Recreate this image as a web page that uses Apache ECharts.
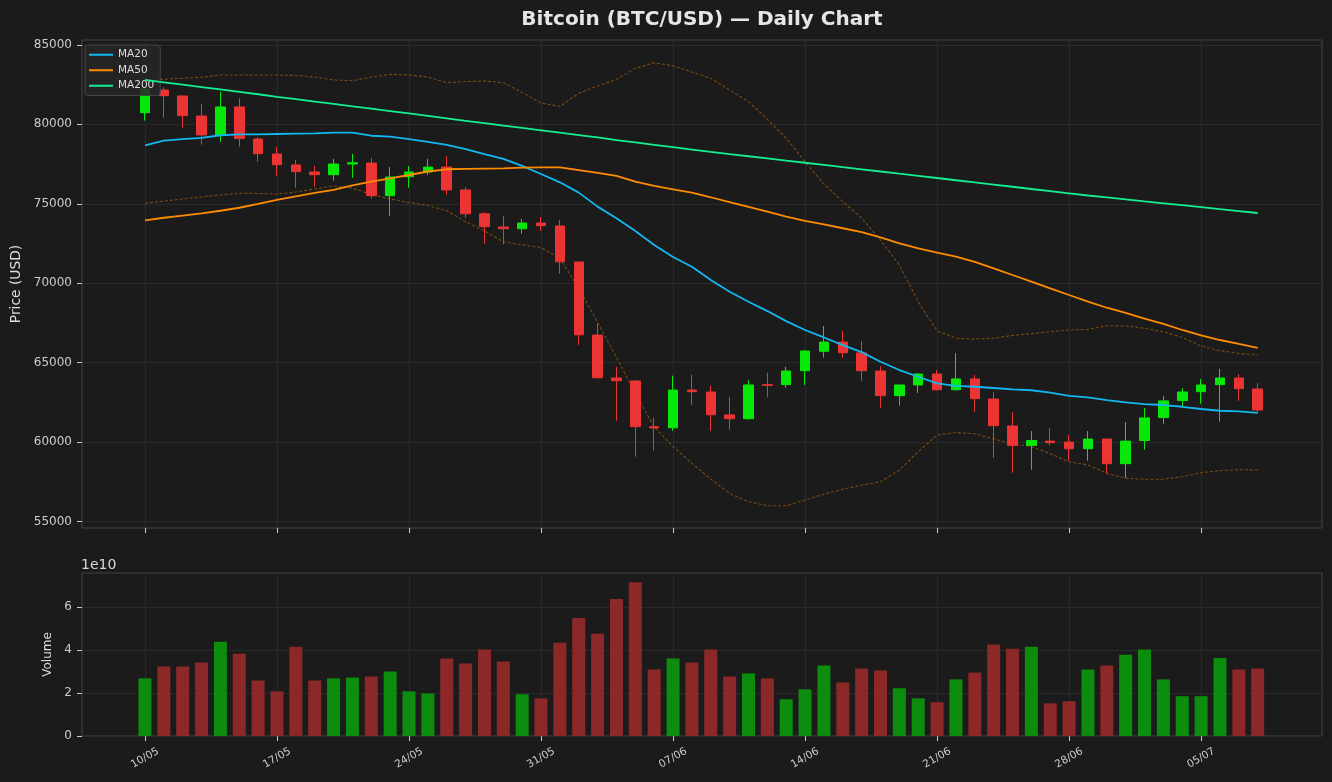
<!DOCTYPE html>
<html>
<head>
<meta charset="utf-8">
<title>Bitcoin (BTC/USD) — Daily Chart</title>
<script src="https://cdn.jsdelivr.net/npm/echarts@6/dist/echarts.min.js"></script>
<style>
  html, body { margin: 0; padding: 0; background: #1b1b1b; }
  #chart { width: 1332px; height: 782px; }
</style>
</head>
<body>
<div id="chart"></div>
<script>
// day index 0 = 10/05
const tickDays = [0, 7, 14, 21, 28, 35, 42, 49, 56];
const tickLabels = ['10/05', '17/05', '24/05', '31/05', '07/06', '14/06', '21/06', '28/06', '05/07'];
const priceTicks = [55000, 60000, 65000, 70000, 75000, 80000, 85000];
const volumeTicks = [0, 2, 4, 6];

const open = [80730, 82150, 81780, 80520, 79330, 81090, 79070, 78130, 77440, 77000,
  76830, 77500, 77560, 75510, 76700, 77000, 77310, 75870, 74370, 73540,
  73430, 73790, 73600, 71340, 66740, 64040, 63850, 60980, 60910, 63280,
  63160, 61720, 61480, 63620, 63620, 64500, 65720, 66300, 65620, 64480,
  62930, 63600, 64290, 63300, 63980, 62720, 61020, 59800, 60070, 60010,
  59590, 60200, 58650, 60110, 61550, 62620, 63180, 63620, 64040, 63350];
const close = [82220, 81800, 80540, 79330, 81090, 79100, 78150, 77460, 77020, 76830,
  77500, 77580, 75510, 76680, 77000, 77310, 75870, 74370, 73560, 73430,
  73790, 73620, 71350, 66760, 64060, 63870, 60980, 60900, 63280, 63180,
  61730, 61480, 63600, 63580, 64480, 65740, 66300, 65630, 64500, 62930,
  63600, 64290, 63300, 63980, 62740, 61040, 59800, 60110, 59970, 59590,
  60200, 58650, 60070, 61530, 62600, 63160, 63600, 64040, 63370, 62030];
const low = [80230, 80410, 79790, 78720, 78900, 78590, 77650, 76770, 76010, 76070,
  76450, 76640, 75320, 74250, 76010, 76810, 75570, 74120, 72490, 72440,
  73120, 73300, 70600, 66130, 64000, 61350, 59090, 59470, 60720, 62360,
  60720, 60780, 61410, 62830, 63430, 63600, 65320, 65320, 63870, 62170,
  62300, 63110, 63250, 63240, 61920, 59020, 58080, 58270, 59780, 58840,
  58840, 58040, 57750, 59530, 61160, 62280, 62420, 61290, 62610, 61900];
const high = [82400, 82330, 81800, 81280, 82050, 81630, 79180, 78570, 77750, 77380,
  77820, 78130, 77880, 77310, 77380, 77820, 78000, 76050, 74480, 74230,
  74040, 74170, 73980, 71340, 67450, 64740, 63910, 61540, 64190, 64250,
  63530, 62860, 63910, 64370, 64740, 65780, 67310, 67000, 66370, 64800,
  63600, 64350, 64540, 65610, 64230, 63160, 61880, 60700, 60890, 60450,
  60700, 60200, 61270, 62150, 62910, 63410, 63980, 64610, 64290, 63720];

// volume in units of 1e10
const volume = [2.68, 3.23, 3.23, 3.42, 4.38, 3.83, 2.58, 2.08, 4.15, 2.58,
  2.68, 2.72, 2.77, 3.00, 2.08, 1.98, 3.60, 3.37, 4.02, 3.46,
  1.94, 1.75, 4.34, 5.49, 4.75, 6.37, 7.15, 3.09, 3.60, 3.42,
  4.02, 2.77, 2.91, 2.68, 1.71, 2.17, 3.28, 2.49, 3.14, 3.05,
  2.22, 1.75, 1.57, 2.63, 2.95, 4.25, 4.06, 4.15, 1.52, 1.62,
  3.09, 3.28, 3.78, 4.02, 2.63, 1.85, 1.85, 3.63, 3.09, 3.14];

const ma20 = [78680, 78970, 79070, 79140, 79310, 79370, 79370, 79390, 79410, 79430,
  79470, 79470, 79280, 79220, 79070, 78890, 78700, 78440, 78130, 77820,
  77380, 76870, 76350, 75700, 74820, 74090, 73290, 72410, 71650, 71040,
  70210, 69470, 68840, 68250, 67620, 67060, 66590, 66110, 65670, 65060,
  64540, 64120, 63700, 63540, 63490, 63410, 63330, 63270, 63120, 62910,
  62820, 62650, 62510, 62400, 62340, 62230, 62090, 61980, 61940, 61850];
const ma50 = [73960, 74120, 74250, 74400, 74560, 74750, 74990, 75240, 75470, 75680,
  75880, 76160, 76390, 76600, 76810, 77030, 77170, 77190, 77210, 77230,
  77270, 77290, 77290, 77120, 76950, 76750, 76390, 76120, 75910, 75700,
  75410, 75110, 74810, 74500, 74190, 73930, 73710, 73460, 73220, 72890,
  72510, 72200, 71920, 71670, 71350, 70940, 70520, 70100, 69680, 69260,
  68840, 68460, 68130, 67770, 67440, 67060, 66720, 66430, 66180, 65940];
const ma200 = [82790, 82640, 82490, 82340, 82190, 82040, 81890, 81730, 81580, 81430,
  81280, 81130, 80980, 80830, 80680, 80530, 80370, 80220, 80070, 79920,
  79770, 79620, 79470, 79320, 79170, 79010, 78860, 78710, 78560, 78410,
  78260, 78120, 77990, 77850, 77710, 77580, 77440, 77300, 77170, 77030,
  76890, 76760, 76620, 76480, 76340, 76210, 76070, 75930, 75800, 75660,
  75520, 75400, 75280, 75150, 75030, 74910, 74790, 74660, 74540, 74420];
const bbUpper = [82740, 82830, 82900, 82960, 83100, 83100, 83100, 83100, 83070, 82970,
  82790, 82740, 82970, 83140, 83100, 82970, 82620, 82690, 82720, 82620,
  82000, 81340, 81120, 81950, 82410, 82830, 83520, 83870, 83670, 83290,
  82890, 82160, 81420, 80310, 79120, 77650, 76240, 75130, 74090, 72720,
  71150, 68840, 67000, 66540, 66490, 66540, 66720, 66830, 66950, 67060,
  67100, 67330, 67310, 67170, 66950, 66600, 66050, 65760, 65590, 65490];
const bbLower = [75030, 75170, 75300, 75430, 75550, 75660, 75650, 75610, 75740, 75930,
  76120, 75990, 75580, 75300, 75080, 74890, 74560, 73870, 73290, 72610,
  72410, 72250, 71570, 69700, 67530, 65330, 63080, 60970, 59720, 58670,
  57680, 56780, 56260, 56000, 56000, 56360, 56730, 57040, 57290, 57510,
  58250, 59400, 60450, 60610, 60530, 60210, 59910, 59720, 59280, 58770,
  58570, 58040, 57730, 57670, 57670, 57830, 58080, 58210, 58270, 58250];

const UP = '#08e808';
const DOWN = '#ec3434';
const UP_VOL = '#0d8d0d';
const DOWN_VOL = '#8d2828';
const FONT = 'DejaVu Sans';

const days = open.map((_, i) => i);
const pts = arr => arr.map((v, i) => [i, v]);

const candles = days.map(i => [i, open[i], close[i], low[i], high[i]]);
const volBars = days.map(i => ({
  value: [i, volume[i]],
  itemStyle: { color: close[i] >= open[i] ? UP_VOL : DOWN_VOL }
}));
const bandWidth = days.map(i => [i, bbUpper[i] - bbLower[i]]);

const xCommon = {
  type: 'value',
  min: -3.34,
  max: 62.41,
  axisLine: { show: false, onZero: false },
  axisTick: { show: true, customValues: tickDays, length: 5, lineStyle: { color: '#cccccc' } },
  splitLine: { show: true, lineStyle: { color: '#2a2a2a', width: 1 } }
};

const chart = echarts.init(document.getElementById('chart'));

const option = {
  backgroundColor: '#1b1b1b',
  animation: false,
  textStyle: { fontFamily: FONT },
  graphic: [
    {
      type: 'text', x: 702, y: 20,
      style: { text: 'Bitcoin (BTC/USD) — Daily Chart', fill: '#e6e6e6', font: 'bold 20px "DejaVu Sans"', textAlign: 'center', textVerticalAlign: 'middle' }
    },
    {
      type: 'text', x: 81, y: 565,
      style: { text: '1e10', fill: '#d8d8d8', font: '14px "DejaVu Sans"', textAlign: 'left', textVerticalAlign: 'middle' }
    }
  ],
  legend: {
    data: ['MA20', 'MA50', 'MA200'],
    orient: 'vertical',
    left: 85,
    top: 45,
    padding: [3, 6, 3, 4],
    itemWidth: 24,
    itemHeight: 2,
    itemGap: 2,
    icon: 'rect',
    backgroundColor: 'rgba(38,38,38,0.85)',
    borderColor: '#454545',
    borderWidth: 1,
    borderRadius: 3,
    textStyle: { color: '#dddddd', fontSize: 10.5, lineHeight: 13.5, fontFamily: FONT }
  },
  grid: [
    { left: 82, top: 40, width: 1240, height: 488, show: true, borderColor: '#444444', borderWidth: 1, backgroundColor: 'transparent' },
    { left: 82, top: 573, width: 1240, height: 163, show: true, borderColor: '#444444', borderWidth: 1, backgroundColor: 'transparent' }
  ],
  xAxis: [
    Object.assign({}, xCommon, {
      gridIndex: 0,
      axisLabel: { show: false, customValues: tickDays }
    }),
    Object.assign({}, xCommon, {
      gridIndex: 1,
      axisLabel: {
        show: true,
        customValues: tickDays,
        rotate: 30,
        align: 'center',
        verticalAlign: 'middle',
        margin: 22,
        color: '#cccccc',
        fontSize: 10.5,
        fontFamily: FONT,
        formatter: v => tickLabels[tickDays.indexOf(Math.round(v))] || ''
      }
    })
  ],
  yAxis: [
    {
      type: 'value', gridIndex: 0,
      min: 54604, max: 85302,
      name: 'Price (USD)',
      nameLocation: 'middle',
      nameGap: 56,
      nameRotate: 90,
      nameTextStyle: { color: '#dddddd', fontSize: 13.8, fontFamily: FONT },
      axisLine: { show: false, onZero: false },
      axisTick: { show: true, customValues: priceTicks, length: 5, lineStyle: { color: '#cccccc' } },
      axisLabel: { customValues: priceTicks, color: '#cccccc', fontSize: 12, margin: 10, fontFamily: FONT, formatter: v => String(Math.round(v)) },
      splitLine: { show: true, lineStyle: { color: '#2a2a2a' } }
    },
    {
      type: 'value', gridIndex: 1,
      min: 0, max: 7.58,
      name: 'Volume',
      nameLocation: 'middle',
      nameGap: 28,
      nameRotate: 90,
      nameTextStyle: { color: '#dddddd', fontSize: 12, fontFamily: FONT },
      axisLine: { show: false, onZero: false },
      axisTick: { show: true, customValues: volumeTicks, length: 5, lineStyle: { color: '#cccccc' } },
      axisLabel: { customValues: volumeTicks, color: '#cccccc', fontSize: 12, margin: 10, fontFamily: FONT, formatter: v => String(Math.round(v)) },
      splitLine: { show: true, lineStyle: { color: '#2a2a2a' } }
    }
  ],
  series: [
    {
      name: 'bbBase', type: 'line', xAxisIndex: 0, yAxisIndex: 0,
      data: pts(bbLower), stack: 'bb', symbol: 'none',
      lineStyle: { opacity: 0 }, z: 1, silent: true
    },
    {
      name: 'bbFill', type: 'line', xAxisIndex: 0, yAxisIndex: 0,
      data: bandWidth, stack: 'bb', symbol: 'none',
      lineStyle: { opacity: 0 },
      areaStyle: { color: 'rgba(255,140,0,0.075)' }, z: 1, silent: true
    },
    {
      name: 'BB Upper', type: 'line', xAxisIndex: 0, yAxisIndex: 0,
      data: pts(bbUpper), symbol: 'none',
      lineStyle: { color: 'rgba(255,140,0,0.42)', width: 1.1, type: [3, 2] }, z: 2, silent: true
    },
    {
      name: 'BB Lower', type: 'line', xAxisIndex: 0, yAxisIndex: 0,
      data: pts(bbLower), symbol: 'none',
      lineStyle: { color: 'rgba(255,140,0,0.42)', width: 1.1, type: [3, 2] }, z: 2, silent: true
    },
    {
      name: 'BTC', type: 'candlestick', xAxisIndex: 0, yAxisIndex: 0,
      data: candles,
      barWidth: 10,
      itemStyle: { color: UP, color0: DOWN, borderColor: UP, borderColor0: DOWN, borderWidth: 1 },
      z: 3
    },
    {
      name: 'MA20', type: 'line', xAxisIndex: 0, yAxisIndex: 0,
      data: pts(ma20), symbol: 'none', color: '#12b8f0',
      lineStyle: { color: '#12b8f0', width: 1.8 }, z: 4
    },
    {
      name: 'MA50', type: 'line', xAxisIndex: 0, yAxisIndex: 0,
      data: pts(ma50), symbol: 'none', color: '#ff8c00',
      lineStyle: { color: '#ff8c00', width: 1.8 }, z: 4
    },
    {
      name: 'MA200', type: 'line', xAxisIndex: 0, yAxisIndex: 0,
      data: pts(ma200), symbol: 'none', color: '#14f090',
      lineStyle: { color: '#14f090', width: 1.8 }, z: 4
    },
    {
      name: 'Volume', type: 'bar', xAxisIndex: 1, yAxisIndex: 1,
      data: volBars, barWidth: 13
    }
  ]
};

chart.setOption(option);
</script>
</body>
</html>
